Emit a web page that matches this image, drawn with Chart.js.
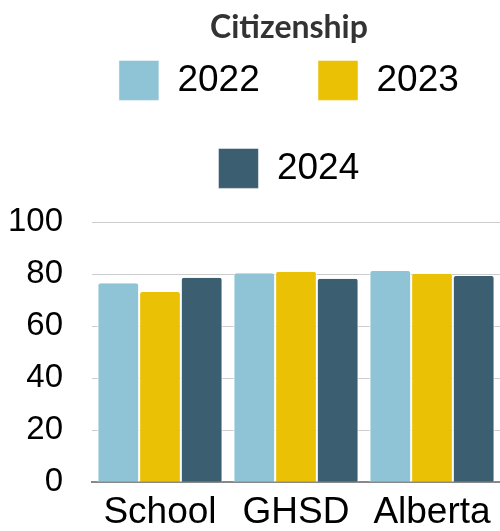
<!DOCTYPE html>
<html>
<head>
<meta charset="utf-8">
<script src="https://cdn.jsdelivr.net/npm/chart.js@4/dist/chart.umd.min.js"></script>
<style>
  html, body { margin: 0; padding: 0; background: #fff; }
  #wrap { width: 500px; height: 531px; }
</style>
</head>
<body>
<div id="wrap"><canvas id="citizenshipChart"></canvas></div>
<script>
var categories = ["School", "GHSD", "Alberta"];
var years = ["2022", "2023", "2024"];
var values2022 = [76.6, 80.4, 81.3];
var values2023 = [73.2, 81.0, 80.2];
var values2024 = [78.7, 78.3, 79.4];
var yTicks = [0, 20, 40, 60, 80, 100];

var colors = ["#8ec4d6", "#ebc106", "#3b5e70"];

// move title + legend over the plot like the original
var nudgePlugin = {
	id: "nudge",
	afterLayout: function (chart) {
		chart.titleBlock.left += 35;
		chart.titleBlock.right += 35;
		chart.legend.left += 40;
		chart.legend.right += 40;
		chart.legend.top -= 34;
	}
};

var makeSet = function (label, data, color) {
	return {
		label: label,
		data: data,
		backgroundColor: color,
		borderColor: "#ffffff",
		borderWidth: { left: 1, right: 1, top: 0, bottom: 0 },
		borderRadius: { topLeft: 3, topRight: 3 },
		borderSkipped: false,
		barPercentage: 1,
		categoryPercentage: 0.92
	};
};

var ctx = document.getElementById("citizenshipChart").getContext("2d");
var chart = new Chart(ctx, {
	type: "bar",
	data: {
		labels: categories,
		datasets: [
			makeSet(years[0], values2022, colors[0]),
			makeSet(years[1], values2023, colors[1]),
			makeSet(years[2], values2024, colors[2])
		]
	},
	options: {
		responsive: true,
		maintainAspectRatio: false,
		animation: false,
		layout: { autoPadding: false, padding: { left: 8, right: 0, top: 0, bottom: 0 } },
		plugins: {
			title: {
				display: true,
				text: "Citizenship",
				color: "#333333",
				font: { family: "Lato", size: 32, weight: "bold" },
				padding: { top: 8, bottom: 0 }
			},
			legend: {
				position: "top",
				maxHeight: 176,
				labels: {
					color: "#000000",
					boxWidth: 40,
					boxHeight: 40,
					padding: 48,
					font: { family: "Liberation Sans, Arial, sans-serif", size: 37 },
					generateLabels: function (chart) {
						var items = Chart.defaults.plugins.legend.labels.generateLabels(chart);
						items.forEach(function (it) { it.text = it.text + " "; });
						return items;
					}
				}
			},
			tooltip: { enabled: false }
		},
		scales: {
			x: {
				grid: { display: false },
				border: { display: true, color: "#888888", width: 2 },
				afterFit: function (axis) { axis.height = 48; },
				ticks: {
					color: "#000000",
					padding: 0,
					font: { family: "Liberation Sans, Arial, sans-serif", size: 37 }
				}
			},
			y: {
				min: yTicks[0],
				max: yTicks[yTicks.length - 1],
				afterBuildTicks: function (axis) {
					axis.ticks = yTicks.map(function (v) { return { value: v }; });
				},
				afterFit: function (axis) { axis.width = 84; },
				grid: { color: "#cccccc", drawTicks: false },
				border: { display: false },
				ticks: {
					color: "#000000",
					padding: 29,
					font: { family: "Liberation Sans, Arial, sans-serif", size: 33 }
				}
			}
		}
	},
	plugins: [nudgePlugin]
});
</script>
</body>
</html>
